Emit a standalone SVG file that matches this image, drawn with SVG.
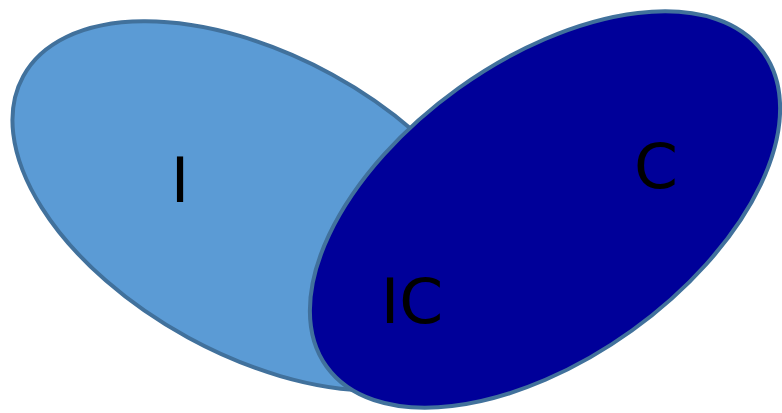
<svg xmlns="http://www.w3.org/2000/svg" width="782" height="413" viewBox="0 0 782 413">
<style>
.set{stroke:#41719C;stroke-width:4}
.lbl{font-family:"DejaVu Sans","Liberation Sans",sans-serif;font-size:63px;fill:#000;text-anchor:middle}
</style>
<rect width="782" height="413" fill="#fff"/>
<g id="setI">
<ellipse class="set" cx="260" cy="206" rx="270" ry="150" fill="#5B9BD5" transform="rotate(28.7 260 206)"/>
</g>
<g id="setC">
<ellipse class="set" cx="545" cy="209.5" rx="269" ry="149" fill="#000099" transform="rotate(-35.7 545 209.5)"/>
</g>
<g id="labels">
<text class="lbl" x="180" y="202">I</text>
<text class="lbl" x="656" y="188">C</text>
<text class="lbl" x="412" y="323">IC</text>
</g>
</svg>
